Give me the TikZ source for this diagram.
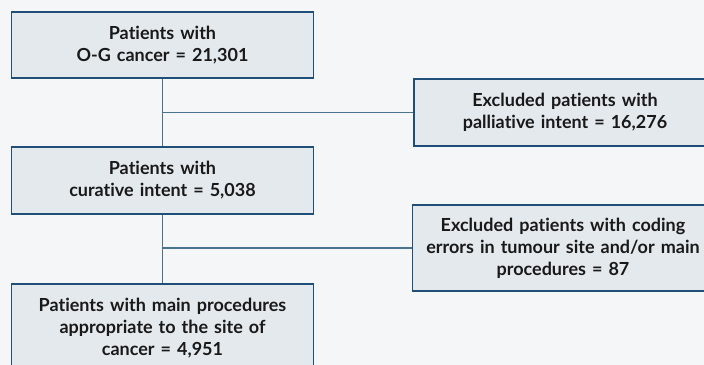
\documentclass[tikz,border=0pt]{standalone}
\usepackage{fontspec}
\setmainfont[Ligatures=CommonOff]{Lato}
\usepackage{tikz}
\usetikzlibrary{positioning,calc}

\definecolor{pagebg}{HTML}{F5F6F8}
\definecolor{boxfill}{HTML}{E4E9EE}
\definecolor{boxline}{HTML}{1F4E79}
\definecolor{linkline}{HTML}{4A7392}

\tikzset{
  flowbox/.style={draw=boxline, line width=0.8pt, fill=boxfill, align=center,
    inner xsep=2pt, text width=7.4cm, minimum width=7.525cm,
    font=\bfseries\fontsize{12.8}{15.6}\selectfont, text=black!90},
  link/.style={draw=linkline, line width=0.8pt}
}

\begin{document}
\begin{tikzpicture}[x=0.025cm, y=-0.025cm]
\useasboundingbox (0,0) rectangle (704,365);
\clip (0,0) rectangle (704,365);
\fill[pagebg] (0,0) rectangle (704,365);

% main column
\node[flowbox, minimum height=1.65cm] (allpat) at (162.5,45) {Patients with\\O-G cancer = 21,301};
\node[flowbox, minimum height=1.675cm] (curative) at (162.5,180.5) {Patients with\\curative intent = 5,038};
\node[flowbox, minimum height=2.2cm] (appropriate) at (162.5,328) {Patients with main procedures\\appropriate to the site of\\cancer = 4,951};

% exclusions
\node[flowbox, minimum height=1.675cm, minimum width=7.55cm] (palliative) at (565,112.5) {Excluded patients with\\palliative intent = 16,276};
\node[flowbox, minimum height=2.15cm, minimum width=7.45cm] (coding) at (563,248) {Excluded patients with coding\\errors in tumour site and/or main\\procedures = 87};

\draw[link] (allpat.south) -- (curative.north);
\draw[link] (allpat.south |- palliative.west) -- (palliative.west);
\draw[link] (curative.south) -- (appropriate.north);
\draw[link] (curative.south |- coding.west) -- (coding.west);
\end{tikzpicture}
\end{document}
